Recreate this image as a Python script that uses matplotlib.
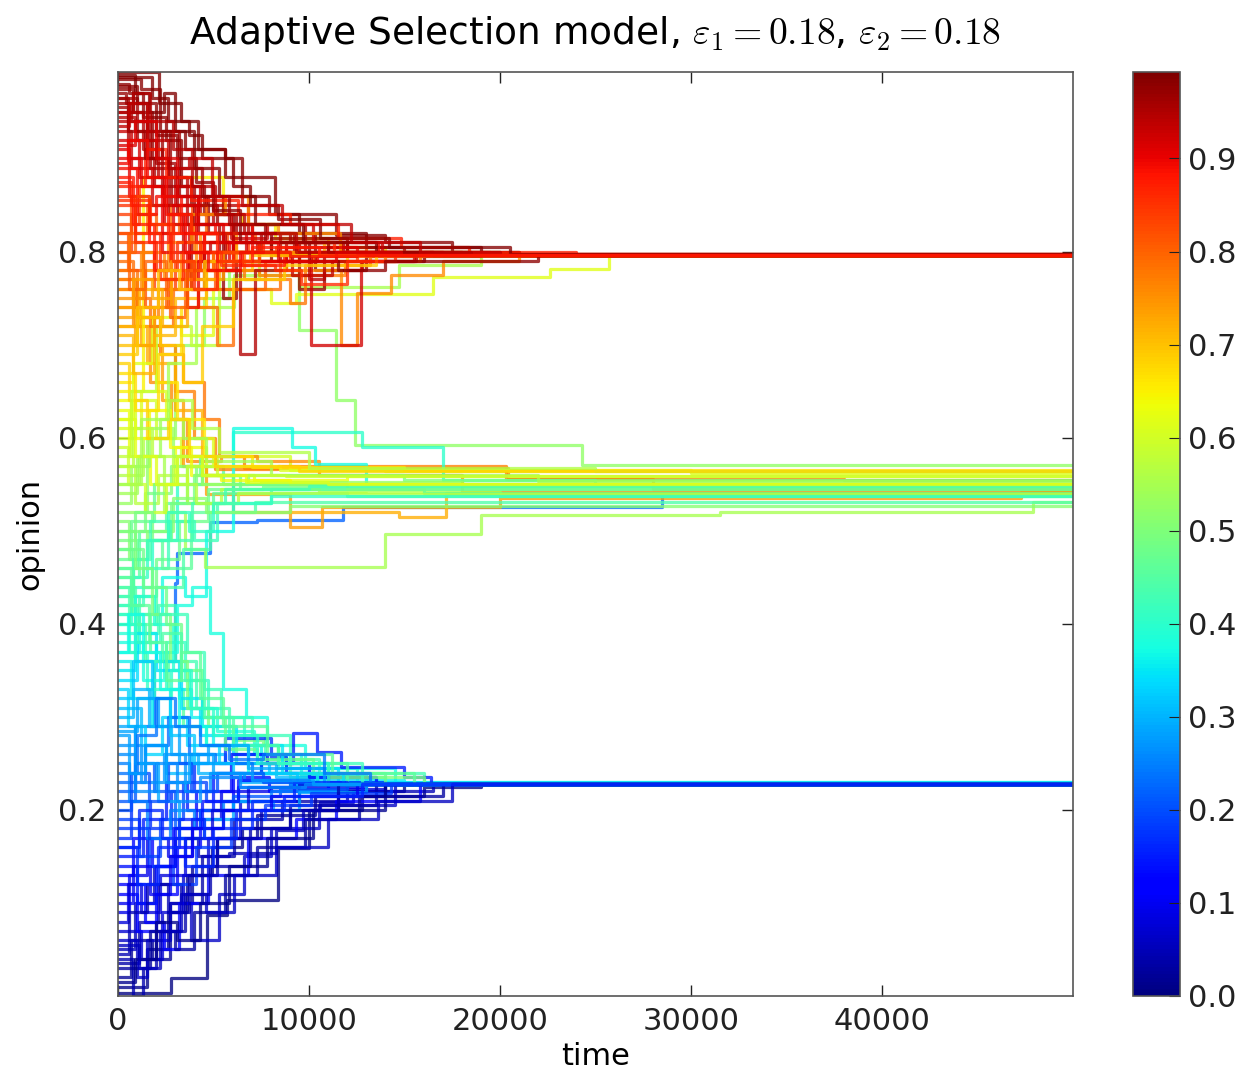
import matplotlib
matplotlib.use("Agg")
import matplotlib.pyplot as plt
from matplotlib import cm
from matplotlib.colors import Normalize
from itertools import zip_longest

plt.rcParams['font.family'] = ['DejaVu Sans']
plt.rcParams['mathtext.fontset'] = 'cm'

T_END = 50000
OPINION_MAX = 0.993
XTICKS = [0, 10000, 20000, 30000, 40000]
YTICKS = [0.2, 0.4, 0.6, 0.8]
CBAR_TICKS = [0.0, 0.1, 0.2, 0.3, 0.4, 0.5, 0.6, 0.7, 0.8, 0.9]

# Opinion trajectories: (time, opinion) at each change; the last value is held to T_END.
mid_paths = [
    [(0, .52), (1500, .60), (3000, .70), (4500, .75), (5800, .78), (9500, .716), (11400, .64), (12400, .592), (24300, .571)],
    [(0, .60), (900, .64), (2000, .60), (3300, .57), (5200, .58), (9000, .565), (14000, .564)],
    [(0, .63), (600, .58), (1700, .55), (3000, .59), (4600, .56), (7100, .555), (12000, .559)],
    [(0, .45), (1100, .50), (2500, .53), (3600, .57), (5500, .55), (9000, .55)],
    [(0, .48), (800, .43), (2000, .47), (3200, .51), (4700, .545), (7600, .548)],
    [(0, .42), (1300, .46), (2600, .51), (4000, .49), (5200, .53), (8000, .545)],
    [(0, .40), (700, .44), (1800, .49), (3100, .55), (4400, .58), (6000, .606), (12800, .59), (17000, .555), (25000, .55)],
    [(0, .37), (1100, .41), (2300, .45), (3500, .43), (4600, .50), (6000, .61), (9100, .59), (10300, .572), (13000, .55)],
    [(0, .55), (1100, .58), (2400, .52), (3500, .48), (4550, .461), (14000, .496), (19000, .517), (31500, .52), (47900, .531)],
    [(0, .57), (900, .53), (2100, .56), (3600, .53), (5400, .545), (10500, .542), (20000, .537)],
    [(0, .50), (1400, .54), (2800, .57), (4100, .55), (6800, .56), (15000, .555)],
    [(0, .46), (1000, .49), (2300, .46), (3800, .52), (5000, .54), (12000, .537)],
    [(0, .53), (700, .57), (1600, .61), (2900, .58), (4400, .55), (7500, .552), (18000, .548)],
    [(0, .61), (1200, .65), (2500, .62), (3700, .60), (5000, .57), (8500, .565), (30000, .562)],
    [(0, .44), (900, .40), (2000, .44), (3400, .48), (4800, .52), (7200, .531)],
    [(0, .66), (800, .70), (2000, .66), (3100, .62), (4500, .58), (7000, .568), (15000, .565)],
    [(0, .56), (1300, .60), (2700, .64), (3900, .61), (5300, .585), (10000, .567), (25000, .564)],
    [(0, .51), (600, .47), (1500, .50), (2900, .535), (4600, .52), (9000, .527)],
    [(0, .54), (1000, .58), (2200, .62), (3400, .60), (4600, .575), (8000, .56), (22000, .553)],
    [(0, .47), (700, .51), (1900, .55), (3100, .58), (4300, .56), (6400, .545), (16000, .54)],
    [(0, .64), (700, .60), (1600, .63), (2700, .59), (3800, .56), (5400, .555), (9000, .55)],
    [(0, .59), (500, .55), (1400, .52), (2500, .55), (3600, .57), (5200, .56), (8800, .559)],
    [(0, .49), (900, .52), (1800, .49), (2800, .53), (4000, .56), (6000, .55), (12000, .545)],
    [(0, .43), (800, .47), (1700, .51), (2700, .49), (3900, .53), (5600, .545), (10000, .548)],
    [(0, .68), (600, .64), (1500, .60), (2600, .62), (3700, .58), (5100, .57), (9500, .564)],
    [(0, .57), (800, .61), (1800, .58), (2900, .55), (4100, .53), (6300, .54), (13000, .539)],
    [(0, .41), (700, .45), (1500, .49), (2600, .52), (3700, .50), (5000, .53), (8000, .537)],
    [(0, .62), (900, .58), (2000, .55), (3100, .58), (4400, .56), (6700, .552), (11000, .55)],
]

orange_mid_paths = [
    [(0, .78), (1000, .73), (2200, .69), (3400, .66), (4500, .62), (5300, .58), (6600, .567), (14000, .567), (20400, .556), (38000, .555)],
    [(0, .76), (800, .72), (1700, .66), (2800, .62), (3600, .575), (5400, .58), (7300, .575), (10500, .56), (18000, .542)],
    [(0, .74), (1200, .70), (2300, .64), (3400, .57), (4600, .539), (9000, .504), (10700, .526), (20000, .535), (47300, .542)],
    [(0, .77), (900, .74), (1900, .70), (3000, .65), (4000, .60), (5100, .566), (8400, .57), (20300, .556), (28000, .545)],
    [(0, .72), (1500, .68), (3000, .63), (4400, .56), (6000, .52), (14700, .515), (17200, .54)],
]

blue_mid_paths = [
    [(0, .22), (900, .29), (1900, .36), (3000, .444), (3100, .476), (4800, .509), (7300, .512), (11800, .526), (28500, .539)],
]

cyan_low_paths = [
    [(0, .45), (800, .41), (1700, .37), (2600, .33), (3400, .29), (4600, .27), (6200, .25), (9000, .235), (14000, .228)],
    [(0, .43), (1100, .39), (2100, .42), (3000, .36), (4100, .31), (5800, .28), (7700, .255), (10500, .24), (16000, .228)],
    [(0, .41), (600, .37), (1500, .33), (2500, .38), (3500, .34), (4700, .30), (6600, .27), (8400, .245), (12500, .23)],
    [(0, .39), (900, .43), (1900, .40), (2900, .35), (3700, .31), (5200, .285), (7100, .26), (9600, .238), (13000, .228)],
    [(0, .38), (1300, .34), (2400, .37), (3100, .42), (3900, .44), (4800, .39), (5500, .33), (6700, .30), (7800, .27), (9800, .245), (14500, .228)],
    [(0, .36), (700, .32), (1800, .29), (2700, .33), (3800, .30), (5000, .27), (7500, .24), (10000, .232), (15000, .228)],
    [(0, .34), (1000, .38), (2000, .35), (3300, .31), (4300, .28), (6000, .26), (8800, .245), (11500, .23)],
    [(0, .33), (500, .29), (1400, .26), (2300, .30), (3600, .27), (5300, .25), (7900, .24), (12000, .228)],
    [(0, .31), (1200, .27), (2500, .24), (3800, .26), (5600, .25), (8300, .235), (13500, .228)],
    [(0, .30), (800, .33), (1600, .29), (2800, .26), (4200, .24), (6400, .23), (10000, .228)],
    [(0, .50), (900, .46), (1800, .41), (2700, .36), (3600, .31), (4700, .29), (6000, .275), (7600, .27), (8400, .25), (11000, .235), (16000, .228)],
    [(0, .48), (1300, .44), (2500, .40), (3300, .35), (4400, .30), (5600, .265), (7300, .255), (10200, .24), (14000, .228)],
    [(0, .42), (1000, .38), (2200, .41), (3600, .37), (4500, .33), (5400, .30), (7000, .28), (9000, .25), (12800, .228)],
    [(0, .35), (900, .39), (2000, .36), (3200, .32), (4400, .29), (6200, .27), (8600, .24), (11800, .228)],
    [(0, .44), (600, .40), (1400, .36), (2300, .39), (3300, .34), (4500, .30), (6000, .27), (8400, .25), (12000, .228)],
    [(0, .40), (900, .36), (1900, .32), (2800, .35), (3800, .31), (5000, .28), (7300, .25), (11000, .228)],
    [(0, .37), (500, .41), (1300, .37), (2200, .33), (3200, .29), (4600, .27), (6800, .24), (10400, .228)],
    [(0, .32), (800, .36), (1800, .32), (2700, .28), (4000, .25), (6000, .24), (9400, .228)],
    [(0, .46), (700, .42), (1600, .38), (2500, .34), (3300, .37), (4300, .32), (5500, .29), (7800, .26), (11200, .24), (15500, .228)],
    [(0, .285), (1000, .32), (2100, .29), (3200, .25), (4700, .27), (6800, .245), (10800, .228)],
]

blue_low_paths = [
    [(0, .003), (2800, .019), (4650, .087), (5700, .103), (8400, .159), (10000, .20), (12800, .215), (16000, .225), (19000, .228)],
    [(0, .01), (1500, .05), (2600, .09), (3600, .13), (4900, .16), (6500, .18), (9000, .20), (11500, .22), (15000, .228)],
    [(0, .02), (700, .06), (1800, .04), (2700, .10), (3900, .14), (5200, .17), (7300, .195), (10300, .215), (14000, .228)],
    [(0, .035), (1100, .08), (2100, .12), (3300, .10), (4400, .15), (6100, .19), (8600, .21), (12000, .228)],
    [(0, .05), (900, .10), (1900, .14), (3000, .17), (4200, .15), (5800, .154), (8300, .178), (9700, .20), (10600, .209), (12300, .22), (16500, .228)],
    [(0, .07), (1200, .04), (2300, .09), (3400, .13), (4700, .17), (6400, .21), (9500, .222), (14000, .228)],
    [(0, .09), (600, .13), (1500, .17), (2600, .15), (3900, .19), (5400, .22), (8000, .225), (13000, .228)],
    [(0, .11), (1000, .07), (2000, .11), (3100, .16), (4300, .20), (6000, .235), (7900, .22), (11000, .228)],
    [(0, .13), (800, .17), (1800, .14), (2900, .18), (4100, .22), (5900, .26), (7800, .25), (10000, .235), (13500, .228)],
    [(0, .15), (1300, .19), (2500, .23), (3600, .20), (5000, .24), (7500, .25), (9150, .283), (10400, .262), (11700, .246), (15000, .235), (16400, .228)],
    [(0, .17), (700, .21), (1700, .18), (2800, .22), (4000, .25), (5600, .277), (8000, .257), (8800, .24), (11000, .23), (14000, .228)],
    [(0, .19), (1100, .15), (2200, .19), (3400, .23), (4600, .21), (6300, .225), (9000, .228)],
    [(0, .21), (900, .25), (1900, .22), (3000, .18), (4300, .20), (6000, .215), (8500, .222), (12000, .228)],
    [(0, .23), (1400, .27), (2600, .30), (3700, .26), (5100, .25), (7000, .24), (10400, .228)],
    [(0, .25), (600, .21), (1500, .17), (2700, .20), (4000, .18), (5500, .21), (8000, .22), (11500, .228)],
    [(0, .27), (1200, .23), (2400, .26), (3500, .22), (4800, .24), (6600, .232), (9000, .228)],
    [(0, .29), (900, .25), (2100, .21), (3200, .17), (4500, .19), (6000, .21), (8100, .20), (9500, .219), (13000, .228)],
    [(0, .06), (1000, .02), (1500, .06), (2700, .10), (3800, .06), (5300, .11), (6600, .15), (8000, .18), (10500, .205), (14500, .228)],
    [(0, .12), (1400, .08), (2400, .05), (3200, .10), (4700, .13), (6800, .17), (9300, .19), (11400, .21), (15800, .228)],
    [(0, .04), (800, .0), (1300, .03), (2000, .07), (3500, .11), (4800, .14), (6900, .18), (9000, .205), (13500, .228)],
    [(0, .18), (1600, .14), (2900, .12), (4100, .16), (5900, .19), (7700, .205), (10100, .218), (14300, .228)],
    [(0, .24), (1000, .28), (2000, .32), (3000, .29), (4300, .27), (5800, .255), (7600, .26), (10800, .24), (13200, .228)],
    [(0, .08), (500, .12), (1200, .09), (2200, .13), (3500, .17), (4900, .20), (6800, .225), (9500, .228)],
    [(0, .14), (1000, .10), (2000, .14), (3000, .18), (4400, .21), (6300, .232), (10000, .228)],
    [(0, .03), (1700, .07), (3000, .05), (4000, .09), (5600, .13), (7300, .16), (9800, .19), (12600, .215), (17000, .228)],
    [(0, .16), (1100, .20), (2300, .17), (3500, .14), (5000, .18), (7000, .21), (9200, .23), (12000, .228)],
    [(0, .015), (900, .04), (2000, .08), (3100, .06), (4300, .10), (5800, .14), (7800, .17), (10200, .20), (14000, .228)],
    [(0, .045), (600, .09), (1500, .12), (2600, .09), (3700, .13), (5200, .17), (7500, .20), (11500, .228)],
    [(0, .10), (800, .14), (1700, .11), (2700, .15), (3900, .18), (5500, .20), (8000, .215), (12500, .228)],
    [(0, .20), (700, .24), (1600, .21), (2600, .25), (3800, .22), (5200, .24), (7600, .23), (10500, .228)],
    [(0, .26), (900, .22), (2000, .25), (3100, .21), (4300, .235), (6400, .225), (9800, .228)],
    [(0, .28), (600, .24), (1400, .27), (2500, .23), (3700, .26), (5000, .24), (7000, .232), (10200, .228)],
    [(0, .055), (1100, .03), (2200, .07), (3300, .11), (4600, .09), (6100, .13), (8300, .16), (11000, .19), (13600, .21), (17500, .228)],
    [(0, .16), (1000, .12), (2100, .16), (3200, .19), (4500, .17), (6200, .20), (8700, .215), (12800, .228)],
]

yellow_top_paths = [
    [(0, .65), (1300, .88), (5500, .84), (6500, .83), (8200, .815), (11000, .805), (14000, .80), (20000, .796)],
    [(0, .62), (800, .68), (1800, .73), (3300, .71), (5000, .76), (8000, .745), (9300, .754), (16500, .773), (22600, .781), (25700, .796)],
    [(0, .55), (1200, .62), (2600, .68), (4100, .74), (6100, .775), (9500, .762), (14700, .785), (19000, .796)],
    [(0, .58), (700, .65), (2000, .72), (3800, .70), (5300, .77), (7400, .80), (10800, .796)],
    [(0, .67), (900, .63), (2100, .69), (3300, .74), (4600, .78), (7000, .79), (12000, .796)],
]

orange_top_paths = [
    [(0, .84), (700, .80), (1900, .76), (3000, .79), (4400, .81), (6800, .80), (9000, .79), (12500, .796)],
    [(0, .83), (1100, .87), (2400, .85), (3900, .82), (5700, .80), (8300, .805), (13000, .796)],
    [(0, .82), (500, .78), (1400, .74), (2600, .77), (3700, .80), (6100, .79), (9500, .80), (15000, .796)],
    [(0, .81), (1300, .77), (2700, .73), (3500, .78), (5200, .76), (7700, .79), (10200, .795), (16000, .796)],
    [(0, .80), (900, .84), (2000, .82), (3200, .85), (4600, .82), (7200, .81), (11700, .80), (18000, .796)],
    [(0, .79), (800, .75), (1700, .72), (2900, .76), (4200, .74), (5200, .70), (6000, .76), (8500, .79), (14000, .796)],
    [(0, .78), (600, .82), (1500, .85), (2700, .83), (4000, .80), (6600, .77), (9000, .745), (9800, .785), (13200, .796)],
    [(0, .77), (1000, .73), (2100, .76), (3300, .80), (5000, .78), (7400, .775), (11900, .79), (15800, .796)],
    [(0, .76), (1200, .80), (2400, .77), (4100, .81), (6200, .79), (8800, .78), (11700, .70), (12500, .755), (14300, .775), (17000, .79), (21000, .796)],
    [(0, .74), (900, .70), (1900, .74), (2800, .78), (4300, .82), (6200, .80), (9400, .797)],
    [(0, .72), (1100, .76), (2300, .72), (3600, .77), (5300, .80), (8000, .796)],
    [(0, .71), (800, .67), (1900, .71), (3000, .75), (4600, .79), (7400, .81), (10800, .80), (15000, .796)],
    [(0, .75), (1300, .78), (2600, .81), (3800, .84), (5600, .86), (6800, .83), (8400, .82), (11600, .80), (18500, .796)],
    [(0, .69), (1000, .73), (2200, .70), (3400, .66), (4400, .72), (6000, .77), (8700, .785), (13500, .796)],
    [(0, .85), (900, .81), (2000, .78), (3100, .81), (4300, .78), (6000, .80), (9000, .796)],
    [(0, .82), (700, .86), (1600, .83), (2700, .79), (3800, .76), (5100, .79), (7400, .80), (11000, .796)],
    [(0, .80), (600, .76), (1400, .79), (2500, .74), (3600, .78), (5000, .80), (8200, .796)],
    [(0, .73), (800, .77), (1800, .75), (2800, .79), (4000, .77), (5500, .80), (9300, .796)],
    [(0, .70), (1000, .74), (2100, .78), (3200, .76), (4500, .79), (6900, .796)],
]

red_top_paths = [
    [(0, .993), (2150, .96), (3300, .94), (4200, .91), (5600, .88), (8200, .84), (9500, .82), (13000, .805), (19000, .797)],
    [(0, .985), (1200, .975), (2200, .93), (3500, .91), (5600, .90), (6500, .86), (7900, .84), (11400, .818), (14000, .81), (17500, .80), (21000, .796)],
    [(0, .98), (600, .97), (1300, .945), (2500, .92), (3300, .87), (4500, .84), (6000, .80), (8000, .82), (10300, .78), (12800, .79), (16000, .80), (21000, .796)],
    [(0, .975), (800, .95), (1800, .90), (2600, .88), (3800, .85), (5200, .83), (7000, .81), (9500, .76), (10800, .78), (13000, .795), (19000, .796)],
    [(0, .97), (400, .96), (1500, .93), (2700, .89), (3200, .86), (4700, .82), (5500, .75), (6200, .79), (8000, .815), (12000, .80), (20000, .796)],
    [(0, .965), (1000, .92), (2000, .895), (3000, .87), (4000, .83), (5300, .80), (7500, .82), (9200, .80), (11000, .805), (15000, .797)],
    [(0, .96), (700, .94), (1700, .89), (2800, .85), (4600, .86), (5500, .84), (6200, .82), (9000, .81), (12000, .80), (18000, .796)],
    [(0, .955), (500, .90), (1900, .87), (3100, .84), (3800, .76), (4500, .80), (6000, .83), (9800, .80), (14500, .797)],
    [(0, .95), (1300, .91), (2300, .86), (4200, .82), (5600, .78), (6400, .69), (7200, .78), (8800, .81), (11800, .80), (17000, .796)],
    [(0, .945), (900, .93), (2100, .88), (3600, .83), (5000, .85), (6800, .82), (8500, .79), (10000, .77), (10800, .80), (14000, .796)],
    [(0, .94), (1500, .90), (2600, .84), (3400, .80), (4800, .81), (7300, .80), (9100, .775), (11200, .79), (15600, .796)],
    [(0, .93), (700, .89), (1800, .85), (3000, .87), (4300, .84), (5900, .815), (7800, .83), (10200, .81), (13800, .80), (19500, .796)],
    [(0, .92), (1100, .88), (2400, .83), (3700, .78), (4500, .82), (6700, .80), (8200, .80), (10100, .70), (12700, .79), (15500, .796)],
    [(0, .91), (600, .86), (1600, .82), (2900, .85), (4100, .81), (6000, .79), (8800, .805), (12500, .797)],
    [(0, .90), (1200, .87), (2300, .80), (3600, .74), (4200, .79), (5800, .81), (7400, .79), (10400, .80), (16500, .796)],
    [(0, .89), (1000, .84), (2000, .86), (3300, .82), (5100, .83), (7000, .80), (9400, .81), (13600, .796)],
    [(0, .88), (800, .83), (1900, .78), (2800, .82), (4500, .80), (6500, .785), (8700, .80), (11000, .796)],
    [(0, .87), (1400, .91), (2500, .88), (3800, .855), (6300, .84), (9000, .83), (11500, .815), (14800, .805), (18400, .80), (24000, .796)],
    [(0, .86), (900, .82), (2200, .77), (3400, .80), (5400, .785), (8200, .78), (9600, .765), (12000, .79), (14500, .796)],
    [(0, .855), (1700, .83), (2900, .79), (4000, .76), (5200, .80), (7600, .81), (11300, .80), (17000, .796)],
    [(0, .988), (1800, .965), (2600, .94), (3700, .925), (4400, .90), (6000, .87), (6900, .85), (8400, .835), (10600, .815), (14200, .805), (20500, .797)],
    [(0, .978), (1000, .96), (2000, .925), (3100, .90), (4100, .875), (5000, .845), (6400, .81), (10000, .79), (11500, .78), (14000, .79), (22000, .796)],
    [(0, .99), (900, .97), (1600, .95), (2400, .97), (3000, .93), (4000, .89), (5300, .86), (7200, .83), (9700, .81), (13500, .80), (18500, .796)],
    [(0, .965), (500, .93), (1400, .90), (2300, .93), (3200, .89), (4400, .86), (5800, .83), (7700, .81), (11000, .80), (16500, .796)],
    [(0, .95), (800, .97), (1700, .94), (2900, .91), (3900, .87), (5100, .84), (6600, .82), (9300, .80), (13000, .796)],
    [(0, .935), (600, .96), (1500, .92), (2600, .89), (3700, .90), (4900, .86), (6500, .85), (8600, .83), (12200, .81), (15800, .80), (20000, .796)],
    [(0, .915), (900, .94), (2000, .90), (3100, .86), (4200, .83), (5500, .81), (8400, .79), (11400, .80), (14800, .796)],
    [(0, .895), (500, .92), (1500, .88), (2500, .84), (3500, .80), (4700, .78), (6400, .80), (9000, .795), (12500, .796)],
    [(0, .875), (700, .85), (1600, .81), (2600, .84), (3800, .82), (5200, .79), (7000, .805), (10500, .796)],
]

cmap = plt.get_cmap('jet')
norm = Normalize(vmin=0.0, vmax=OPINION_MAX)

fig = plt.figure(figsize=(12.39, 10.69), dpi=100)
ax = fig.add_axes([0.0952, 0.0683, 0.7708, 0.8644])
cax = fig.add_axes([0.9144, 0.0683, 0.038, 0.8644])


def interleave(*lists):
    out = []
    for row in zip_longest(*lists):
        out.extend(p for p in row if p is not None)
    return out


draw_order = (interleave(mid_paths, orange_mid_paths, blue_mid_paths)
              + yellow_top_paths
              + interleave(cyan_low_paths, blue_low_paths)
              + interleave(red_top_paths, orange_top_paths))

for path in draw_order:
    ts = [p[0] for p in path] + [T_END]
    vs = [p[1] for p in path] + [path[-1][1]]
    ax.step(ts, vs, where='post', color=cmap(norm(vs[0])), lw=2.3, alpha=0.78)

ax.set_xlim(0, T_END)
ax.set_ylim(0.0, OPINION_MAX)
ax.set_xticks(XTICKS)
ax.set_yticks(YTICKS)
ax.set_xticklabels([str(t) for t in XTICKS])
ax.set_yticklabels([f"{v:.1f}" for v in YTICKS])
ax.tick_params(direction='in', length=8, width=1, top=True, right=True,
               labelsize=22, pad=8, colors='#222222')
for s in ax.spines.values():
    s.set_color('#555555')
    s.set_linewidth(1.2)
ax.set_xlabel('time', fontsize=22, labelpad=4)
ax.set_ylabel('opinion', fontsize=22, labelpad=10)
ax.set_title(r'Adaptive Selection model, $\varepsilon_1=0.18$, $\varepsilon_2=0.18$',
             fontsize=27, pad=20)

sm = cm.ScalarMappable(norm=norm, cmap=cmap)
cb = fig.colorbar(sm, cax=cax, ticks=CBAR_TICKS)
cb.ax.set_yticklabels([f"{v:.1f}" for v in CBAR_TICKS])
cb.ax.tick_params(direction='in', length=8, labelsize=22, pad=6, colors='#222222')
cb.outline.set_edgecolor('#555555')
cb.outline.set_linewidth(1.2)

fig.savefig('out.png', dpi=100)
